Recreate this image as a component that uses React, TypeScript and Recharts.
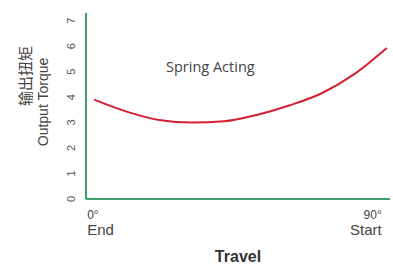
import React from 'react';
import { LineChart, Line, XAxis, YAxis, Label } from 'recharts';

const travelDeg = [0, 10, 20, 30, 40, 50, 60, 70, 80, 90];
const torque = [3.9, 3.43, 3.1, 3.0, 3.05, 3.3, 3.67, 4.15, 4.9, 5.93];
const yTicks = [0, 1, 2, 3, 4, 5, 6, 7];
const xTicks = [0, 90];
const xTickTop: Record<number, string> = { 0: '0°', 90: '90°' };
const xTickBottom: Record<number, string> = { 0: 'End', 90: 'Start' };

const data = travelDeg.map((t, i) => ({ t, v: torque[i] }));

const axisGreen = '#3e9e68';
const font = '"Liberation Sans", Arial, sans-serif';

const YTick = (props: any) => {
 const { y, payload } = props;
 const cx = 71;
 return (
  <text x={cx} y={y} dy={4} textAnchor="middle" transform={`rotate(-90, ${cx}, ${y})`}
   fontSize={11} fill="#555" fontFamily={font}>
   {payload.value}
  </text>
 );
};

const XTick = (props: any) => {
 const { x, payload } = props;
 const v = payload.value;
 const anchor = v === 0 ? 'start' : 'end';
 const tx = v === 0 ? x - 7 : x - 5;
 return (
  <g fontFamily={font} fill="#444">
   <text x={tx} y={219} textAnchor={anchor} fontSize={12}>{xTickTop[v]}</text>
   <text x={tx} y={235} textAnchor={anchor} fontSize={15}>{xTickBottom[v]}</text>
  </g>
 );
};

const YLabel = () => (
 <g fontFamily={font} fill="#444">
  <text x={24} y={76} textAnchor="middle" dominantBaseline="central" fontSize={15}
   fontFamily='"Noto Sans CJK SC", sans-serif' transform="rotate(-90, 24, 76)">输出扭矩</text>
  <text x={43} y={102} textAnchor="middle" dominantBaseline="central" fontSize={14}
   transform="rotate(-90, 43, 102)">Output Torque</text>
 </g>
);

export default function App() {
 return (
  <div style={{ position: 'absolute', left: 0, top: 0, background: '#fff' }}>
   <LineChart width={393} height={268} data={data} margin={{ top: 13, right: 3, left: 0, bottom: 0 }}>
    <XAxis dataKey="t" type="number" domain={[-2.5, 91]} ticks={xTicks} tick={<XTick />}
     tickLine={false} axisLine={{ stroke: axisGreen, strokeWidth: 2 }} height={69} interval={0}>
     <Label value="Travel" position="insideBottom" offset={6} fontSize={16} fontWeight="bold"
      fill="#333" fontFamily={font} />
    </XAxis>
    <YAxis type="number" domain={[0, 7.3]} ticks={yTicks} tick={<YTick />} tickLine={false}
     axisLine={{ stroke: axisGreen, strokeWidth: 2 }} width={86} interval={0}
     label={<YLabel />} />
    <Line type="monotone" dataKey="v" stroke="#d42030" strokeWidth={2} dot={false}
     isAnimationActive={false} />
    <text x={166} y={72} fontSize={14.5} fill="#444" fontFamily='"Open Sans", sans-serif'>Spring Acting</text>
   </LineChart>
  </div>
 );
}
